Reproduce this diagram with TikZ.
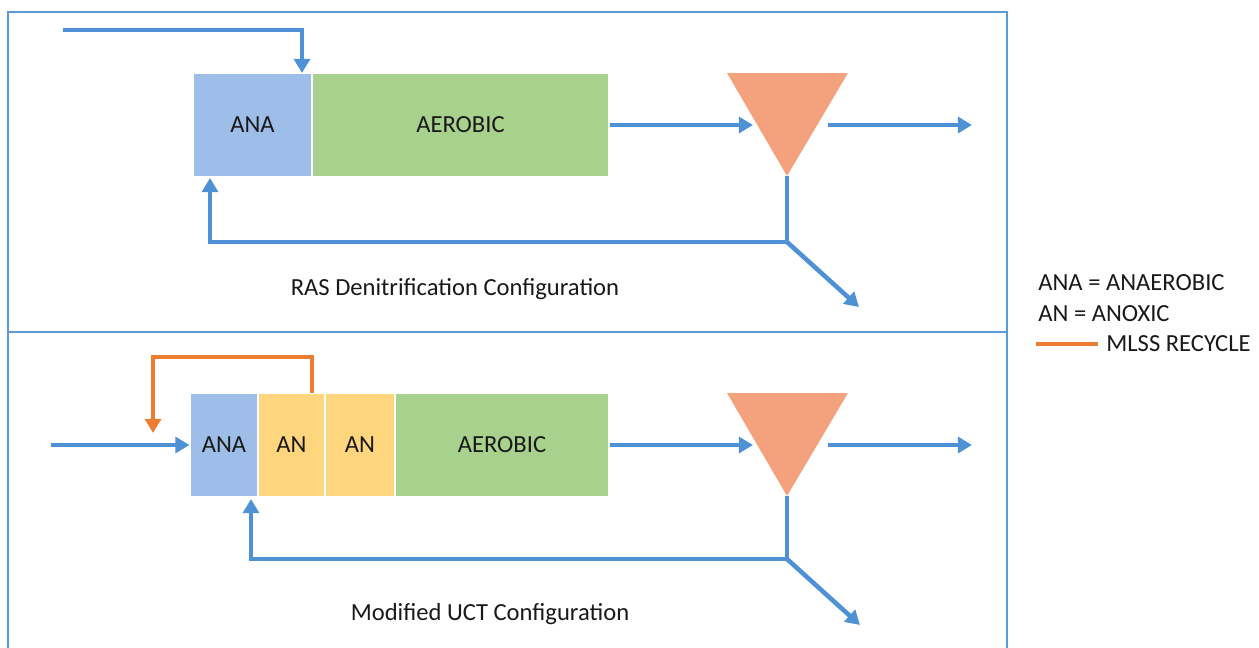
\documentclass[tikz,border=0pt]{standalone}
\usepackage{fontspec}
\setmainfont{Carlito}
\usetikzlibrary{arrows.meta}
\definecolor{lineblue}{RGB}{79,145,213}
\definecolor{frameblue}{RGB}{91,155,213}
\definecolor{anafill}{RGB}{157,190,232}
\definecolor{aerfill}{RGB}{169,209,142}
\definecolor{anfill}{RGB}{255,214,125}
\definecolor{trifill}{RGB}{244,162,126}
\definecolor{recycle}{RGB}{237,125,49}
\tikzset{
  txt/.style={font=\fontsize{14}{16}\selectfont, text=black!90},
  tank/.style={txt, draw=white, line width=0.6pt, minimum height=2.08cm, inner sep=0pt, anchor=center},
  flow/.style={draw=lineblue, line width=2.6pt, -{Triangle[length=8pt,width=9pt]}},
  mlss/.style={draw=recycle, line width=2.6pt, -{Triangle[length=8pt,width=9pt]}},
  frame/.style={draw=frameblue, line width=1.4pt},
  clarifier/.style={fill=trifill}
}
\begin{document}
\begin{tikzpicture}[x=0.02cm,y=-0.02cm]
\useasboundingbox (0,0) rectangle (1259,647);
% frames
\draw[frame] (8,660) -- (8,12) -- (1007,12) -- (1007,660);
\draw[frame] (8,332) -- (1007,332);

% ===== top panel =====
\node[tank, fill=anafill, minimum width=2.38cm] (ana1) at (252.5,125) {ANA};
\node[tank, fill=aerfill, minimum width=5.94cm] (aer1) at (460.5,125) {AEROBIC};
\fill[clarifier] (727,73) -- (848,73) -- (787,176) -- cycle;
\coordinate (t1) at (787,176);
\coordinate (in1) at (63,30);
\coordinate (ana1in) at (302,73);
\coordinate (s1in) at (753,125);
\coordinate (s1out) at (828,125);
\coordinate (eff1) at (972,125);
\coordinate (b1) at (787,242);
\coordinate (ras1) at (210,178);
\coordinate (was1) at (859,307);
\draw[flow] (in1) -| (ana1in);
\draw[flow] (aer1.east) -- (s1in);
\draw[flow] (s1out) -- (eff1);
\draw[flow] (t1) -- (b1) -| (ras1);
\draw[flow] (b1) -- (was1);
\node[txt] (cap1) at (455,289) {RAS Denitrification Configuration};

% ===== bottom panel =====
\node[tank, fill=anafill, minimum width=1.36cm] (ana2) at (224,445) {ANA};
\node[tank, fill=anfill, minimum width=1.34cm] (an2a) at (291.5,445) {AN};
\node[tank, fill=anfill, minimum width=1.40cm] (an2b) at (360,445) {AN};
\node[tank, fill=aerfill, minimum width=4.28cm] (aer2) at (502,445) {AEROBIC};
\fill[clarifier] (727,393) -- (848,393) -- (787,496) -- cycle;
\coordinate (t2) at (787,496);
\coordinate (in2) at (51,445);
\coordinate (an2top) at (312,393);
\coordinate (mlss2) at (153,433);
\coordinate (s2in) at (753,445);
\coordinate (s2out) at (828,445);
\coordinate (eff2) at (972,445);
\coordinate (b2) at (787,559);
\coordinate (ras2) at (251,499);
\coordinate (was2) at (860,625);
\draw[flow] (in2) -- (ana2.west);
\draw[mlss] (an2top) -- (312,357) -| (mlss2);
\draw[flow] (aer2.east) -- (s2in);
\draw[flow] (s2out) -- (eff2);
\draw[flow] (t2) -- (b2) -| (ras2);
\draw[flow] (b2) -- (was2);
\node[txt] (cap2) at (490,614) {Modified UCT Configuration};

% ===== legend =====
\node[txt, anchor=west, inner sep=0pt] (leg1) at (1038,283) {ANA = ANAEROBIC};
\node[txt, anchor=west, inner sep=0pt] (leg2) at (1038,314) {AN = ANOXIC};
\coordinate (lg3a) at (1036,344);
\node[txt, anchor=west, inner sep=0pt] (leg3) at (1106,344) {MLSS RECYCLE};
\draw[draw=recycle, line width=2.6pt] (lg3a) -- (leg3.west -| 1098,0);
\end{tikzpicture}
\end{document}
